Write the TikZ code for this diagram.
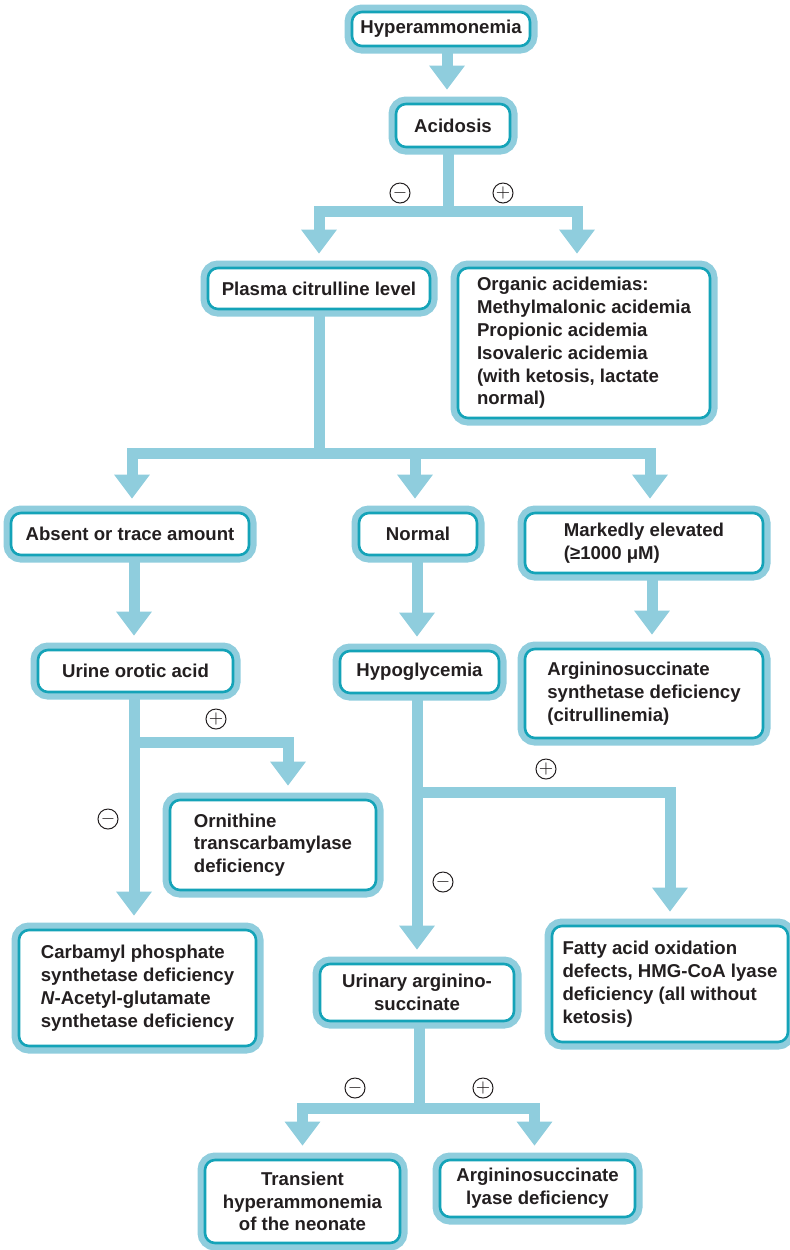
\documentclass[tikz,border=0pt]{standalone}
\usepackage{fontspec}
\setmainfont{Liberation Sans}
\usetikzlibrary{arrows.meta}
\definecolor{bandblue}{RGB}{143,205,221}
\definecolor{tealline}{RGB}{20,163,184}
\definecolor{ink}{RGB}{35,31,32}

\begin{document}
\begin{tikzpicture}[x=0.5pt,y=-0.5pt,
  box/.style={draw=tealline,line width=1.3pt,fill=white,rounded corners=5pt,
    preaction={draw=bandblue,line width=7.5pt},
    text=ink,inner sep=2pt,align=center,
    font=\fontsize{9.3}{11.4}\selectfont\bfseries},
  flow/.style={draw=bandblue,line width=5.5pt,shorten <=0.6pt},
  arr/.style={flow,-{Triangle[width=17pt,length=12pt]},shorten >=6.5pt},
  sign/.style={circle,draw=ink,line width=0.5pt,minimum size=10pt,inner sep=0pt,
    text=ink,font=\fontsize{9}{9}\selectfont}]
  \useasboundingbox (0,0) rectangle (790,1250);
  % boxes
  \node[box,minimum width=89pt,minimum height=17pt] (hyp) at (441,29) {Hyperammonemia};
  \node[box,minimum width=57pt,minimum height=21.5pt] (acid) at (453,125.5) {Acidosis};
  \node[box,minimum width=111pt,minimum height=20.5pt] (plasma) at (319,288.5) {Plasma citrulline level};
  \node[box,align=left,minimum width=126pt,minimum height=75pt] (organic) at (584,343)
    {Organic acidemias:\\Methylmalonic acidemia\\Propionic acidemia\\Isovaleric acidemia\\(with ketosis, lactate\\normal)};
  \node[box,minimum width=119pt,minimum height=21pt] (absent) at (130,534) {Absent or trace amount};
  \node[box,minimum width=59pt,minimum height=21pt] (normal) at (418,534) {Normal};
  \node[box,align=left,minimum width=119pt,minimum height=30pt] (elev) at (644,543)
    {Markedly elevated\\(≥1000 μM)};
  \node[box,minimum width=97.5pt,minimum height=21pt] (urine) at (135.5,671) {Urine orotic acid};
  \node[box,minimum width=79.5pt,minimum height=21pt] (hypo) at (419.5,672) {Hypoglycemia};
  \node[box,align=left,minimum width=119pt,minimum height=44.5pt] (synth) at (644,693.5)
    {Argininosuccinate\\synthetase deficiency\\(citrullinemia)};
  \node[box,align=left,minimum width=103pt,minimum height=45pt] (orni) at (273,845)
    {Ornithine\\transcarbamylase\\deficiency};
  \node[box,align=left,minimum width=118.5pt,minimum height=58pt] (carb) at (137.5,988)
    {Carbamyl phosphate\\synthetase deficiency\\\textit{N}-Acetyl-glutamate\\synthetase deficiency};
  \node[box,minimum width=97pt,minimum height=28.5pt] (urinary) at (417,992.5)
    {Urinary arginino-\\succinate};
  \node[box,align=left,minimum width=118pt,minimum height=58pt] (fatty) at (670,984)
    {Fatty acid oxidation\\defects, HMG-CoA lyase\\deficiency (all without\\ketosis)};
  \node[box,minimum width=97.5pt,minimum height=41.5pt] (trans) at (302.5,1201.5)
    {Transient\\hyperammonemia\\of the neonate};
  \node[box,minimum width=97.5pt,minimum height=28.5pt] (lyase) at (537.5,1188.5)
    {Argininosuccinate\\lyase deficiency};

  % connectors
  \draw[arr] ([xshift=3pt]hyp.south) -- ([xshift=-3pt]acid.north);

  \coordinate (j1) at (448,211);
  \draw[flow] (acid.south -| j1) -- ([yshift=-2.75pt]j1);
  \draw[arr] (j1) -| (plasma.north);
  \draw[arr] (j1) -| ([xshift=-3.5pt]organic.north);

  \coordinate (j2) at (319,453);
  \draw[flow] (plasma.south -| j2) -- ([yshift=-2.75pt]j2);
  \draw[arr] (j2) -| ([xshift=1pt]absent.north);
  \draw[arr] (j2) -| ([xshift=-1.5pt]normal.north);
  \draw[arr] (j2) -| ([xshift=3pt]elev.north);

  \draw[arr] (absent.south -| 134,0) -- (urine.north -| 134,0);
  \draw[arr] (normal.south -| 417,0) -- (hypo.north -| 417,0);
  \draw[arr] ([xshift=4pt]elev.south) -- ([xshift=4pt]synth.north);

  \coordinate (j3) at (134,742);
  \draw[arr] (urine.south -| j3) -- (carb.north -| j3);
  \draw[arr] (j3) -| ([xshift=7.5pt]orni.north);

  \coordinate (j4) at (417,792);
  \draw[arr] (hypo.south -| j4) -- (urinary.north -| j4);
  \draw[arr] (j4) -| (fatty.north);

  \coordinate (j5) at (419,1108);
  \draw[flow] (urinary.south -| j5) -- ([yshift=-2.75pt]j5);
  \draw[arr] (j5) -| (trans.north);
  \draw[arr] (j5) -| ([xshift=-1.5pt]lyase.north);

  % signs
  \node[sign] (s1) at (400,193) {$-$};
  \node[sign] (s2) at (503,193) {$+$};
  \node[sign] (s3) at (216,719) {$+$};
  \node[sign] (s4) at (108,819) {$-$};
  \node[sign] (s5) at (546,769) {$+$};
  \node[sign] (s6) at (443,882) {$-$};
  \node[sign] (s7) at (355,1088) {$-$};
  \node[sign] (s8) at (483,1088) {$+$};
\end{tikzpicture}
\end{document}
